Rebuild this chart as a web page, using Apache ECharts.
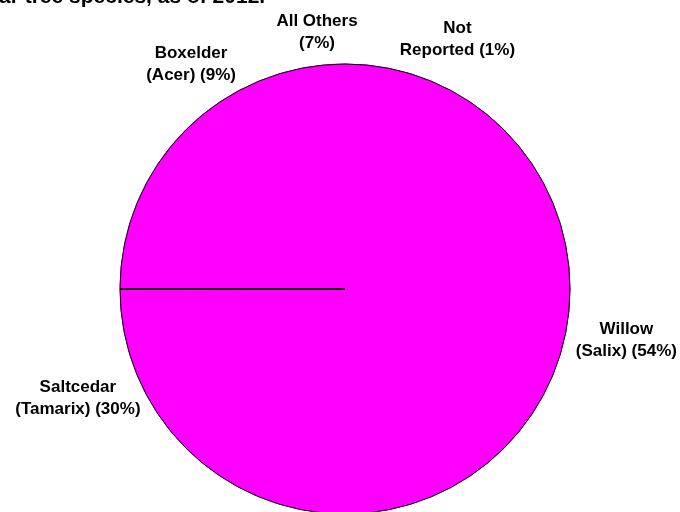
<!DOCTYPE html>
<html>
<head>
<meta charset="utf-8">
<script src="https://cdn.jsdelivr.net/npm/echarts@6/dist/echarts.min.js"></script>
<style>
  html, body { margin: 0; padding: 0; background: #fff; }
  #chart { width: 680px; height: 512px; }
</style>
</head>
<body>
<div id="chart"></div>
<script>
// Share of nests by tree species (percent).
const titleText = 'ar tree species, as of 2012.';
const speciesNames = ['Willow\n(Salix)', 'Saltcedar\n(Tamarix)', 'Boxelder\n(Acer)', 'All Others\n', 'Not\nReported'];
const sharePct = [54, 30, 9, 7, 1];

// Hand-placed label nudges (the source chart moved the small-slice labels).
const labelNudges = [[3, 21], [-11, -3], [44, -29], [53, 8], [126, 25]];

const PIE_CENTER = [345, 289];
const PIE_RADIUS = 225;
const total = sharePct.reduce((a, b) => a + b, 0);

const chart = echarts.init(document.getElementById('chart'), null, { renderer: 'canvas' });

chart.setOption({
  backgroundColor: '#fff',
  animation: false,
  graphic: [
    {
      type: 'text',
      left: -1,
      top: -13,
      style: {
        text: titleText,
        font: 'bold 21px "Liberation Sans", Arial, sans-serif',
        fill: '#000'
      }
    }
  ],
  series: [
    {
      type: 'pie',
      center: PIE_CENTER,
      radius: PIE_RADIUS,
      startAngle: 90,
      clockwise: true,
      avoidLabelOverlap: false,
      silent: true,
      // same-colour border hides the anti-aliasing seams between slices
      itemStyle: { color: '#ff00ff', borderColor: '#ff00ff', borderWidth: 1 },
      label: {
        show: true,
        position: 'outside',
        color: '#000',
        fontFamily: '"Liberation Sans", Arial, sans-serif',
        fontWeight: 'bold',
        fontSize: 17,
        lineHeight: 22,
        align: 'center',
        formatter: (p) => {
          const sep = p.name.endsWith('\n') ? '' : ' ';
          return p.name + sep + '(' + p.value + '%)';
        }
      },
      labelLine: { show: false, length: 50, length2: 0 },
      labelLayout: (p) => ({
        align: 'center',
        verticalAlign: 'middle',
        dx: labelNudges[p.dataIndex][0],
        dy: labelNudges[p.dataIndex][1]
      }),
      data: speciesNames.map((name, i) => ({ name, value: sharePct[i] }))
    },
    {
      // outline of the disc, with the single radius stroke on the left
      type: 'pie',
      center: PIE_CENTER,
      radius: PIE_RADIUS,
      startAngle: 180,
      clockwise: true,
      silent: true,
      label: { show: false },
      labelLine: { show: false },
      data: [
        { value: total, itemStyle: { color: 'transparent', borderColor: '#000', borderWidth: 1 } },
        { value: total * 2e-4, itemStyle: { color: 'transparent', borderColor: '#000', borderWidth: 1 } }
      ]
    }
  ]
});
</script>
</body>
</html>
